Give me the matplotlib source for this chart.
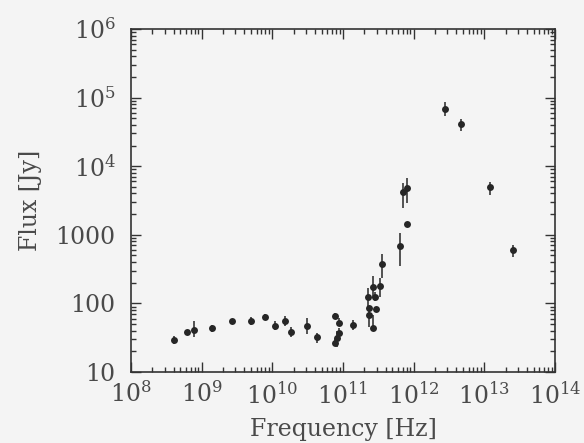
import numpy as np
import matplotlib
matplotlib.use("Agg")
import matplotlib.pyplot as plt
from matplotlib.ticker import LogLocator, FuncFormatter, NullFormatter

# Spectral energy distribution: frequency [Hz], flux [Jy] with lower/upper bounds
freq = [4.0e8, 6.2e8, 7.7e8, 1.41e9, 2.73e9, 5.0e9, 7.9e9, 1.1e10, 1.53e10,
        1.84e10, 3.1e10, 4.3e10, 7.8e10, 8.7e10, 8.7e10, 8.3e10, 7.6e10,
        1.4e11, 2.28e11, 2.32e11, 2.32e11, 2.62e11, 2.65e11, 2.83e11,
        2.96e11, 3.33e11, 3.6e11, 6.4e11, 7.15e11, 8.1e11, 8.1e11,
        2.75e12, 4.75e12, 1.21e13, 2.51e13]
flux = [28.9, 38.3, 41.6, 43.6, 56, 55.6, 63.2, 47.6, 56.2,
        37.8, 47, 32, 65.1, 52, 37.2, 31.3, 26.5,
        47.8, 126, 86.3, 68, 44.4, 173, 126,
        84, 181, 380, 695, 4150, 4800, 1425,
        67600, 41000, 4910, 596]
flux_lo = [25.3, 35.2, 32.9, 38.9, 56, 48, 56.6, 40.3, 46.3,
           31.9, 35.5, 26.7, 58.4, 46.6, 31.4, 22.9, 23.7,
           41.3, 85, 86.3, 45.8, 44.4, 119, 110,
           84, 126, 233, 354, 2440, 2890, 1425,
           54700, 32700, 3840, 471]
flux_hi = [33.4, 41.6, 54.5, 48.8, 56, 63.7, 71, 55, 66.5,
           44.7, 62, 37.3, 72.8, 61.5, 44, 39.3, 30,
           57.8, 167, 86.3, 86.3, 68, 247, 145,
           84, 235, 523, 1052, 5680, 6710, 1425,
           85700, 49500, 5800, 720]

plt.rcParams["font.family"] = ["DejaVu Serif"]
plt.rcParams["mathtext.fontset"] = "dejavuserif"

bg = "#f4f4f4"
ink = "#262626"
txt = "#4a4a4a"

fig = plt.figure(figsize=(5.84, 4.43), dpi=100, facecolor=bg)
ax = fig.add_axes([131 / 584, 71 / 443, 424 / 584, 343 / 443], facecolor=bg)

flux_a = np.array(flux)
yerr = np.vstack([flux_a - np.array(flux_lo), np.array(flux_hi) - flux_a])
ax.errorbar(freq, flux, yerr=yerr, fmt="o", color=ink, ms=5, mew=0,
            elinewidth=1.1, capsize=3, capthick=1.1)

ax.set_xscale("log")
ax.set_yscale("log")
ax.set_xlim(1e8, 1e14)
ax.set_ylim(10, 1e6)


def xfmt(v, pos):
    return r"$10^{%d}$" % round(np.log10(v))


def yfmt(v, pos):
    e = round(np.log10(v))
    if e <= 3:
        return "%d" % round(v)
    return r"$10^{%d}$" % e


ax.xaxis.set_major_locator(LogLocator(base=10, numticks=20))
ax.xaxis.set_minor_locator(LogLocator(base=10, subs=np.arange(2, 10), numticks=100))
ax.yaxis.set_major_locator(LogLocator(base=10, numticks=20))
ax.yaxis.set_minor_locator(LogLocator(base=10, subs=np.arange(2, 10), numticks=100))
ax.xaxis.set_major_formatter(FuncFormatter(xfmt))
ax.yaxis.set_major_formatter(FuncFormatter(yfmt))
ax.xaxis.set_minor_formatter(NullFormatter())
ax.yaxis.set_minor_formatter(NullFormatter())

ax.tick_params(which="both", direction="in", top=True, right=True,
               color="#333333", width=1.0)
ax.tick_params(which="major", length=7, labelsize=17, labelcolor=txt)
ax.tick_params(axis="x", which="major", pad=7)
ax.tick_params(axis="y", which="major", pad=11)
ax.tick_params(which="minor", length=3.5)
for s in ax.spines.values():
    s.set_color("#333333")
    s.set_linewidth(1.2)

ax.set_xlabel("Frequency [Hz]", fontsize=17, color=txt, labelpad=7)
ax.set_ylabel("Flux [Jy]", fontsize=17, color=txt, labelpad=10)

fig.savefig("out.png", dpi=100, facecolor=bg)
